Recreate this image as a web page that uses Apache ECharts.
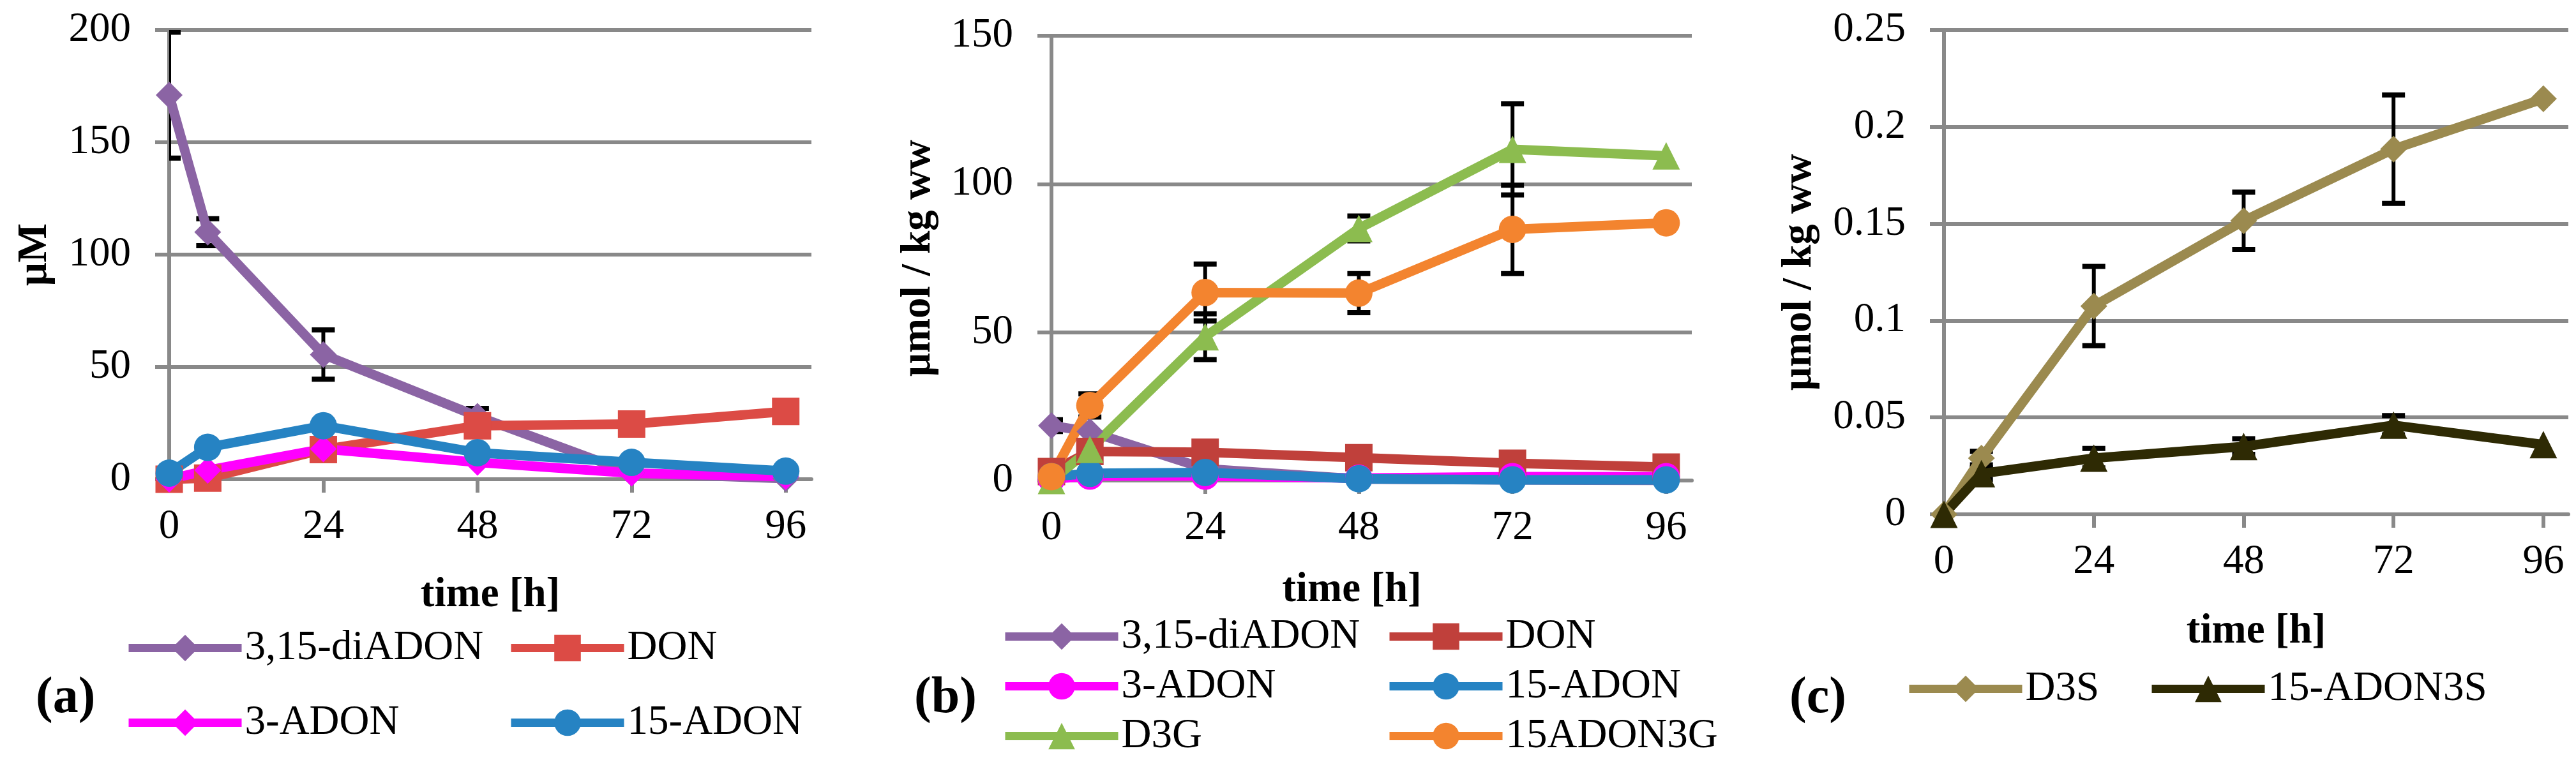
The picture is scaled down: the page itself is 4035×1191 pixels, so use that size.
<!DOCTYPE html>
<html>
<head>
<meta charset="utf-8">
<script src="https://cdn.jsdelivr.net/npm/echarts@6/dist/echarts.min.js"></script>
<style>
  html, body { margin: 0; background: #fff; }
  #chart { width: 4035px; height: 1191px; }
</style>
</head>
<body>
<div id="chart"></div>
<script>
const hours = [0, 6, 24, 48, 72, 96];
const xTicks = [0, 24, 48, 72, 96];

// (a) medium, µM
const aDiADON = [171, 110, 55.5, 28, 2.7, 0.3];
const aDiADONErr = [28, 6, 11, 3.5, 0, 0];
const aDON = [0, 0.5, 13.2, 23.8, 24.6, 30.2];
const a3ADON = [0, 4, 13.5, 7.5, 2.7, 1.2];
const a15ADON = [2.7, 14.2, 23.8, 11.8, 7.5, 3.6];

// (b) plant, µmol / kg ww
const bDiADON = [18.5, 16.5, 4, 0.5, 0.2, 0];
const bDiADONErr = [2, 0, 0, 0, 0, 0];
const bDON = [3, 9.8, 9.5, 7.7, 5.8, 4.5];
const b3ADON = [0.5, 1.5, 1.5, 0.8, 1.3, 1.3];
const b15ADON = [1.3, 2.4, 2.7, 0.6, 0.2, 0.2];
const bD3G = [0, 10.5, 48.5, 85, 111.7, 109.5];
const bD3GErr = [0, 0, 7.7, 4.2, 15.4, 0];
const b15ADON3G = [1.3, 25.3, 63.4, 63.2, 84.7, 86.9];
const b15ADON3GErr = [0, 3.9, 9.6, 6.6, 14.9, 0];

// (c) sulfates, µmol / kg ww
const cD3S = [0, 0.029, 0.1075, 0.1515, 0.1885, 0.2145];
const cD3SErr = [0, 0.0035, 0.0205, 0.0148, 0.028, 0];
const c15ADON3S = [0, 0.021, 0.029, 0.035, 0.046, 0.036];
const c15ADON3SErr = [0, 0.003, 0.005, 0.004, 0.005, 0];

const FONT = '"Liberation Serif", "Times New Roman", serif';
const GRID_GREY = '#898989';

function renderErrorBar(params, api) {
  const x = api.value(0);
  const hi = api.coord([x, api.value(2)]);
  const lo = api.coord([x, api.value(1)]);
  const cap = 18;
  return {
    type: 'group',
    children: [
      { type: 'line', shape: { x1: hi[0], y1: hi[1], x2: lo[0], y2: lo[1] }, style: { stroke: '#000', lineWidth: 6 } },
      { type: 'line', shape: { x1: hi[0] - cap, y1: hi[1], x2: hi[0] + cap, y2: hi[1] }, style: { stroke: '#000', lineWidth: 8 } },
      { type: 'line', shape: { x1: lo[0] - cap, y1: lo[1], x2: lo[0] + cap, y2: lo[1] }, style: { stroke: '#000', lineWidth: 8 } },
    ],
  };
}

function line(panel, name, values, color, symbol) {
  return {
    name: panel + '|' + name,
    type: 'line',
    xAxisIndex: 'abc'.indexOf(panel),
    yAxisIndex: 'abc'.indexOf(panel),
    data: hours.map((h, i) => [h, values[i]]),
    symbol,
    symbolSize: symbol === 'diamond' ? 42 : 43,
    color,
    lineStyle: { width: 15, color },
    itemStyle: { color },
  };
}

function errors(panel, values, errs) {
  return {
    type: 'custom',
    xAxisIndex: 'abc'.indexOf(panel),
    yAxisIndex: 'abc'.indexOf(panel),
    clip: true,
    silent: true,
    renderItem: renderErrorBar,
    encode: { x: 0, y: [1, 2] },
    data: hours
      .map((h, i) => [h, values[i] - errs[i], values[i] + errs[i]])
      .filter((d, i) => errs[i] > 0),
  };
}

function xAxis(gridIndex, nameGap, shift) {
  return {
    type: 'value',
    gridIndex,
    min: 0,
    max: 100,
    interval: 24,
    name: 'time [h]',
    nameLocation: 'middle',
    nameGap,
    nameTextStyle: {
      fontFamily: FONT, fontSize: 65, fontWeight: 'bold', color: '#000',
      padding: [0, shift, 0, 0],
    },
    axisLine: { show: true, onZero: false, lineStyle: { color: GRID_GREY, width: 6 } },
    axisTick: { show: true, length: 21, customValues: xTicks, lineStyle: { color: GRID_GREY, width: 6 } },
    axisLabel: { customValues: xTicks, margin: 42, fontFamily: FONT, fontSize: 65, color: '#000' },
    splitLine: { show: false },
  };
}

function yAxis(gridIndex, name, max, interval, nameGap) {
  return {
    type: 'value',
    gridIndex,
    min: 0,
    max,
    interval,
    name,
    nameLocation: 'middle',
    nameGap,
    nameTextStyle: { fontFamily: FONT, fontSize: 65, fontWeight: 'bold', color: '#000' },
    axisLine: { show: true, lineStyle: { color: GRID_GREY, width: 6 } },
    axisTick: { show: true, length: 22, lineStyle: { color: GRID_GREY, width: 6 } },
    axisLabel: { margin: 60, fontFamily: FONT, fontSize: 65, color: '#000' },
    splitLine: { show: true, lineStyle: { color: GRID_GREY, width: 6 } },
  };
}

// one legend entry per box so the two columns line up like the original
function legend(name, left, rowCenter) {
  return {
    orient: 'horizontal',
    left,
    top: rowCenter - 26,
    padding: 0,
    itemWidth: 177,
    itemHeight: 52,
    selectedMode: false,
    data: [name],
    formatter: (n) => n.split('|')[1],
    lineStyle: { width: 13 },
    textStyle: { fontFamily: FONT, fontSize: 65, color: '#000', lineHeight: 52 },
  };
}

const chart = echarts.init(document.getElementById('chart'));
chart.setOption({
  animation: false,
  backgroundColor: '#fff',
  grid: [
    { left: 265, top: 47, width: 1006, height: 704 },
    { left: 1647, top: 56, width: 1003, height: 697 },
    { left: 3045, top: 47, width: 978, height: 759 },
  ],
  xAxis: [xAxis(0, 150, 0), xAxis(1, 140, 62), xAxis(2, 152, 0)],
  yAxis: [
    yAxis(0, 'μM', 200, 50, 177),
    yAxis(1, 'μmol / kg ww', 150, 50, 175),
    yAxis(2, 'μmol / kg ww', 0.25, 0.05, 193),
  ],
  legend: [
    legend('a|3,15-diADON', 195, 1009),
    legend('a|3-ADON', 195, 1126),
    legend('a|DON', 794, 1009),
    legend('a|15-ADON', 794, 1126),
    legend('b|3,15-diADON', 1568, 991),
    legend('b|3-ADON', 1568, 1069),
    legend('b|D3G', 1568, 1147),
    legend('b|DON', 2170, 991),
    legend('b|15-ADON', 2170, 1069),
    legend('b|15ADON3G', 2170, 1147),
    legend('c|D3S', 2984, 1073),
    legend('c|15-ADON3S', 3364, 1073),
  ],
  graphic: [
    { type: 'text', left: 56, top: 1055, style: { text: '(a)', font: 'bold 80px ' + FONT, fill: '#000' } },
    { type: 'text', left: 1432, top: 1055, style: { text: '(b)', font: 'bold 80px ' + FONT, fill: '#000' } },
    { type: 'text', left: 2803, top: 1055, style: { text: '(c)', font: 'bold 80px ' + FONT, fill: '#000' } },
  ],
  series: [
    line('a', '3,15-diADON', aDiADON, '#8B64A4', 'diamond'),
    errors('a', aDiADON, aDiADONErr),
    line('a', 'DON', aDON, '#DC4B45', 'rect'),
    line('a', '3-ADON', a3ADON, '#FF00FF', 'diamond'),
    line('a', '15-ADON', a15ADON, '#2683C3', 'circle'),

    line('b', '3,15-diADON', bDiADON, '#8B64A4', 'diamond'),
    errors('b', bDiADON, bDiADONErr),
    line('b', 'DON', bDON, '#C0403B', 'rect'),
    line('b', '3-ADON', b3ADON, '#FF00FF', 'circle'),
    line('b', '15-ADON', b15ADON, '#2683C3', 'circle'),
    line('b', 'D3G', bD3G, '#8CBC4F', 'triangle'),
    errors('b', bD3G, bD3GErr),
    line('b', '15ADON3G', b15ADON3G, '#F3842F', 'circle'),
    errors('b', b15ADON3G, b15ADON3GErr),

    line('c', 'D3S', cD3S, '#9B8A4F', 'diamond'),
    errors('c', cD3S, cD3SErr),
    line('c', '15-ADON3S', c15ADON3S, '#2E2A04', 'triangle'),
    errors('c', c15ADON3S, c15ADON3SErr),
  ],
});
</script>
</body>
</html>
